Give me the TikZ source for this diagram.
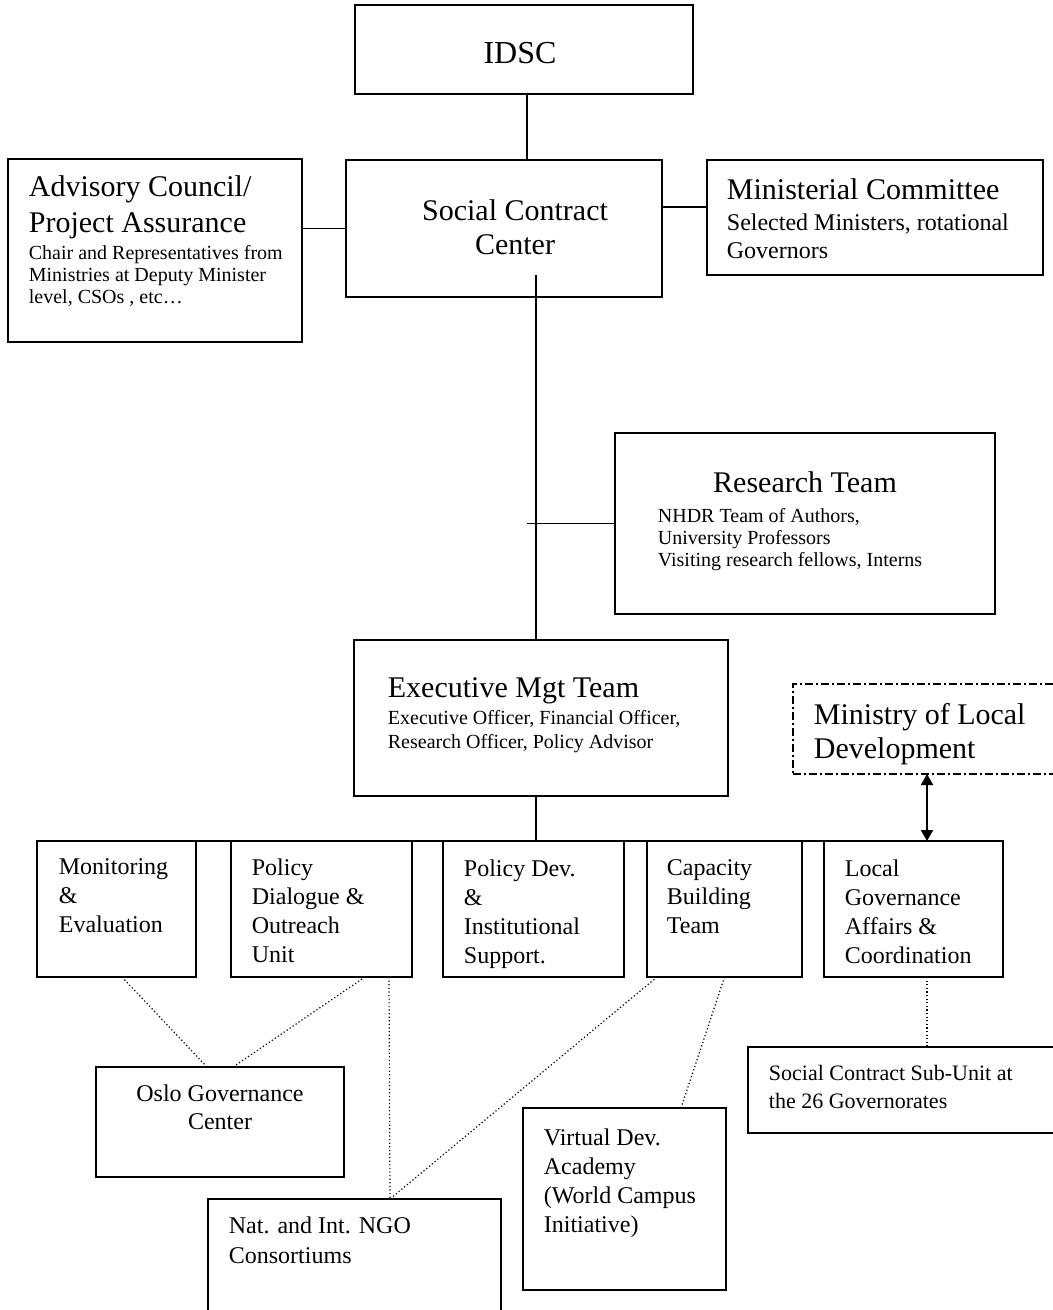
\documentclass[tikz,border=0pt]{standalone}
\usepackage{fontspec}
\setmainfont{Liberation Serif}
\usetikzlibrary{arrows.meta}

\begin{document}
\begin{tikzpicture}[x=0.5pt,y=-0.5pt,line width=0.9pt,
  box/.style={draw,inner sep=0pt,outer sep=0pt},
  mldbox/.style={draw,inner sep=0pt,outer sep=0pt,line width=0.6pt,dash pattern=on 4pt off 1.5pt on 1pt off 1.5pt},
  ttl/.style={inner sep=0pt,align=left,font=\fontsize{15}{17}\selectfont},
  sml/.style={inner sep=0pt,align=left,font=\fontsize{10}{11}\selectfont},
  mid/.style={inner sep=0pt,align=left,font=\fontsize{12}{14.5}\selectfont},
  dotline/.style={line width=0.6pt,dash pattern=on 0.6pt off 1.2pt}]
\path[use as bounding box,fill=white] (0,0) rectangle (1053,1310);

\node[box,minimum width=169pt,minimum height=44.5pt] (idsc) at (524,49.5) {};
\node[box,minimum width=158pt,minimum height=68.5pt] (scc) at (504,228.5) {};
\node[box,minimum width=147pt,minimum height=91.5pt] (adv) at (155,250.5) {};
\node[box,minimum width=168pt,minimum height=57.5pt] (min) at (875,217.5) {};
\node[box,minimum width=190pt,minimum height=90.5pt] (res) at (805,523.5) {};
\node[box,minimum width=187pt,minimum height=78pt] (exec) at (541,718) {};
\node[mldbox,minimum width=138.5pt,minimum height=45pt] (mld) at (931.5,729) {};
\foreach \n/\cx/\w in {me/116.5/79.5,pdo/321.5/90.5,pdi/533.5/90.5,cbt/724.5/77.5,lga/913.5/89.5}
  \node[box,minimum width=\w pt,minimum height=68pt] (\n) at (\cx,909) {};
\node[box,minimum width=124pt,minimum height=55pt] (oslo) at (220,1122) {};
\node[box,minimum width=146.5pt,minimum height=65.5pt] (ngo) at (354.5,1264.5) {};
\node[box,minimum width=101.5pt,minimum height=91pt] (vda) at (624.5,1199) {};
\node[box,minimum width=161pt,minimum height=43pt] (scs) at (909,1090) {};

\node[ttl,anchor=north,font=\fontsize{16}{18}\selectfont] (idsc-t) at (520,41) {IDSC};
\node[ttl,anchor=north west] (adv-t) at (28,175) {Advisory Council/\\[1pt]Project Assurance};
\node[sml,anchor=north west] (adv-s) at (28,245) {Chair and Representatives from\\Ministries at Deputy Minister\\level, CSOs , etc…};
\node[ttl,anchor=north,align=center] (scc-t) at (515,199) {Social Contract\\Center};
\node[ttl,anchor=north west] (min-t) at (726,178) {Ministerial Committee};
\node[mid,anchor=north west,font=\fontsize{12}{14}\selectfont] (min-s) at (726,213) {Selected Ministers, rotational\\Governors};
\node[ttl,anchor=north] (res-t) at (805,471) {Research Team};
\node[sml,anchor=north west] (res-s) at (657,508) {NHDR Team of Authors,\\University Professors\\Visiting research fellows, Interns};
\node[ttl,anchor=north west] (exec-t) at (387,677) {Executive Mgt Team};
\node[sml,anchor=north west] (exec-s) at (387,710) {Executive Officer, Financial Officer,\\[1pt]Research Officer, Policy Advisor};
\node[ttl,anchor=north west] (mld-t) at (813,702) {Ministry of Local\\Development};

\node[mid,anchor=north west] (me-t) at (58,858) {Monitoring\\\&\\Evaluation};
\node[mid,anchor=north west] (pdo-t) at (251,858) {Policy\\Dialogue \&\\Outreach\\Unit};
\node[mid,anchor=north west] (pdi-t) at (463,859) {Policy Dev.\\\&\\Institutional\\Support.};
\node[mid,anchor=north west] (cbt-t) at (666,859) {Capacity\\Building\\Team};
\node[mid,anchor=north west] (lga-t) at (844,859) {Local\\Governance\\Affairs \&\\Coordination};
\node[mid,anchor=north,align=center,font=\fontsize{12}{14}\selectfont] (oslo-t) at (220,1084) {Oslo Governance\\Center};
\node[mid,anchor=north west,font=\fontsize{12}{15}\selectfont] (ngo-t) at (228,1216) {Nat. and Int. NGO\\Consortiums};
\node[mid,anchor=north west] (vda-t) at (543,1128) {Virtual Dev.\\Academy\\(World Campus\\Initiative)};
\node[mid,anchor=north west,font=\fontsize{11}{14}\selectfont] (scs-t) at (768,1064) {Social Contract Sub-Unit at\\the 26 Governorates};

\coordinate (sccin) at (536,275);
\draw ([xshift=1.5pt]idsc.south) -- ([xshift=1.5pt]idsc.south |- scc.north);
\draw (scc.west) -- (scc.west -| adv.east);
\draw ([yshift=5.25pt]min.west) -- ([yshift=5.25pt]min.west -| scc.east);
\draw (sccin) -- (sccin |- exec.north);
\draw ([xshift=-4.5pt]sccin |- res.west) -- (res.west);
\draw (sccin |- exec.south) -- (sccin |- me.north);
\draw (me.north west) -- (lga.north east);
\draw[>={Triangle[length=5.5pt,width=6pt]},<->] ([xshift=-2.25pt]mld.south) -- ([xshift=-2.25pt]mld.south |- lga.north);

\draw[dotline] ([xshift=2.75pt]me.south) -- ([xshift=-6.5pt]oslo.north);
\draw[dotline] ([xshift=21.75pt]pdo.south) -- ([xshift=6.5pt]oslo.north);
\draw[dotline] ([xshift=33.75pt]pdo.south) -- ([xshift=17.75pt]ngo.north);
\draw[dotline] ([xshift=-33.75pt]cbt.south) -- ([xshift=17.75pt]ngo.north);
\draw[dotline] (cbt.south) -- ([xshift=28.25pt]vda.north);
\draw[dotline] ([xshift=6.75pt]lga.south) -- ([xshift=6.75pt]lga.south |- scs.north);
\end{tikzpicture}
\end{document}
